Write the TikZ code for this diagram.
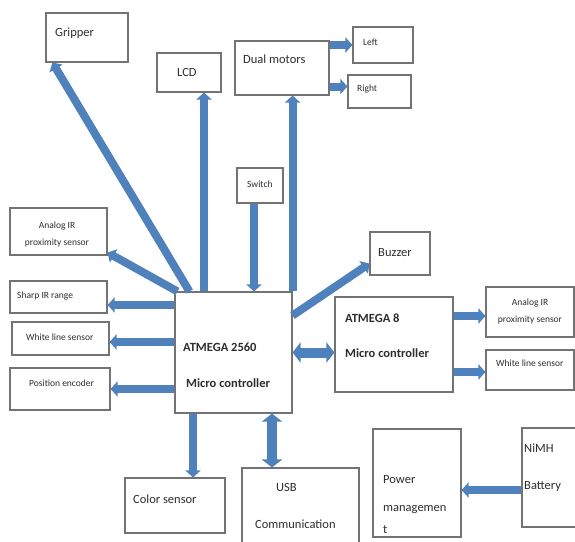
\documentclass[tikz,border=0pt]{standalone}
\usepackage{fontspec}
\setmainfont{Carlito}
\usetikzlibrary{arrows.meta,calc}
\definecolor{box_gray}{RGB}{115,115,115}
\definecolor{arrow_blue}{RGB}{79,129,189}
\definecolor{text_gray}{RGB}{45,45,45}

\begin{document}
\begin{tikzpicture}[x=1pt,y=-1pt]
    \tikzstyle{blk}=[draw=box_gray, line width=1.1pt, rectangle, inner sep=0pt, fill=white]
    \tikzstyle{txt}=[text=text_gray, inner sep=0pt, anchor=west, font=\fontsize{12.5}{15}\selectfont]
    \tikzstyle{sm}=[style=txt, font=\fontsize{9.5}{11}\selectfont]
    \tikzstyle{two}=[style=sm, anchor=center, align=center, font=\fontsize{9.5}{17}\selectfont]
    \tikzstyle{bold}=[style=txt, font=\fontsize{12.5}{15}\selectfont\bfseries]
    \tikzstyle{arr}=[-{Triangle[width=15pt,length=7pt]}, draw=arrow_blue, line width=8pt]
    \tikzstyle{dbl}=[{Triangle[width=20pt,length=8pt]}-{Triangle[width=20pt,length=8pt]}, draw=arrow_blue, line width=10pt]

    \clip (0,0) rectangle (575,541);

    % blocks
    \node[blk, minimum width=82,  minimum height=49]  (grip)   at (87,37.5)    {};
    \node[blk, minimum width=64,  minimum height=39]  (lcd)    at (189,72.5)   {};
    \node[blk, minimum width=94,  minimum height=54]  (motors) at (282,68)     {};
    \node[blk, minimum width=60,  minimum height=36]  (left)   at (383,45)     {};
    \node[blk, minimum width=63,  minimum height=33]  (right)  at (379.5,91.5) {};
    \node[blk, minimum width=46,  minimum height=35]  (switch) at (260,185.5)  {};
    \node[blk, minimum width=97,  minimum height=47]  (anaL)   at (58.5,231.5) {};
    \node[blk, minimum width=97,  minimum height=32]  (sharp)  at (58.5,297)   {};
    \node[blk, minimum width=97,  minimum height=33]  (wlL)    at (60.5,338.5) {};
    \node[blk, minimum width=100, minimum height=42]  (enc)    at (60,389)     {};
    \node[blk, minimum width=117, minimum height=121] (mcu)    at (233.5,352.5) {};
    \node[blk, minimum width=60,  minimum height=43]  (buzz)   at (400,253.5)  {};
    \node[blk, minimum width=118, minimum height=95]  (mcu8)   at (394,344.5)  {};
    \node[blk, minimum width=88,  minimum height=50]  (anaR)   at (530,312)    {};
    \node[blk, minimum width=88,  minimum height=40]  (wlR)    at (530,370)    {};
    \node[blk, minimum width=100, minimum height=55]  (color)  at (175,505.5)  {};
    \node[blk, minimum width=117, minimum height=77]  (usb)    at (300.5,506.5) {};
    \node[blk, minimum width=88,  minimum height=108] (power)  at (417,483)    {};
    \node[blk, minimum width=58,  minimum height=99]  (nimh)   at (551,477.5)  {};

    % labels
    \node[txt] (grip_t)   at (55,33)   {Gripper};
    \node[txt] (lcd_t)    at (177,72)  {LCD};
    \node[txt] (motors_t) at (243,59)  {Dual motors};
    \node[sm]  (left_t)   at (363,42)  {Left};
    \node[sm]  (right_t)  at (357,89)  {Right};
    \node[sm]  (switch_t) at (247,184) {Switch};
    \node[two] (anaL_t)   at (57,234)  {Analog IR\\proximity sensor};
    \node[sm]  (sharp_t)  at (17,296)  {Sharp IR range};
    \node[sm]  (wlL_t)    at (26,337)  {White line sensor};
    \node[sm]  (enc_t)    at (29,383)  {Position encoder};
    \node[bold] (mcu_a)   at (183,347) {ATMEGA 2560};
    \node[bold] (mcu_b)   at (186,383) {Micro controller};
    \node[txt] (buzz_t)   at (378,253) {Buzzer};
    \node[bold] (mcu8_a)  at (345,318) {ATMEGA 8};
    \node[bold] (mcu8_b)  at (345,353) {Micro controller};
    \node[two] (anaR_t)   at (530,311) {Analog IR\\proximity sensor};
    \node[sm]  (wlR_t)    at (496,363) {White line sensor};
    \node[txt] (color_t)  at (133,499) {Color sensor};
    \node[txt] (usb_a)    at (276,487) {USB};
    \node[txt] (usb_b)    at (255,524) {Communication};
    \node[txt] (power_a)  at (383,480) {Power};
    \node[txt] (power_b)  at (383,510) {managemen};
    \node[txt] (power_c)  at (383,530) {t};
    \node[txt] (nimh_a)   at (524,448) {NiMH};
    \node[txt] (nimh_b)   at (524,486) {Battery};

    % links
    \path
     ($(mcu.north west)+(15,0)$) edge[arr] ($(grip.south west)+(7,0)$)
     ($(mcu.north -| lcd.south)+(15,0)$) edge[arr] ($(lcd.south)+(15,0)$)
     (mcu.north east) edge[arr] (mcu.north east |- motors.south)
     (motors.east |- left.west) edge[arr] (left.west)
     ($(motors.east |- right.west)+(0,-5)$) edge[arr] ($(right.west)+(0,-5)$)
     ($(switch.south)+(-6,0)$) edge[arr] ($(switch.south |- mcu.north)+(-6,0)$)
     ($(mcu.north west)+(3,0)$) edge[arr] ($(anaL.south east)+(0,-3)$)
     ($(mcu.west |- sharp.east)+(0,8)$) edge[arr] ($(sharp.east)+(0,8)$)
     ($(mcu.west |- wlL.east)+(0,3.5)$) edge[arr] ($(wlL.east)+(0,3.5)$)
     (mcu.west |- enc.east) edge[arr] (enc.east)
     ($(mcu.east)+(0,-37)$) edge[arr] ($(buzz.south west)+(0,-12)$)
     (mcu.east) edge[dbl] (mcu.east -| mcu8.west)
     ($(mcu8.east |- anaR.west)+(0,4)$) edge[arr] ($(anaR.west)+(0,4)$)
     ($(mcu8.east |- wlR.west)+(0,2)$) edge[arr] ($(wlR.west)+(0,2)$)
     ($(mcu.south -| color.north)+(18,0)$) edge[arr] ($(color.north)+(18,0)$)
     ($(mcu.south -| usb.north)+(-28.5,0)$) edge[dbl] ($(usb.north)+(-28.5,0)$)
     ($(nimh.west |- power.east)+(0,7)$) edge[arr] ($(power.east)+(0,7)$)
     ;
\end{tikzpicture}
\end{document}
